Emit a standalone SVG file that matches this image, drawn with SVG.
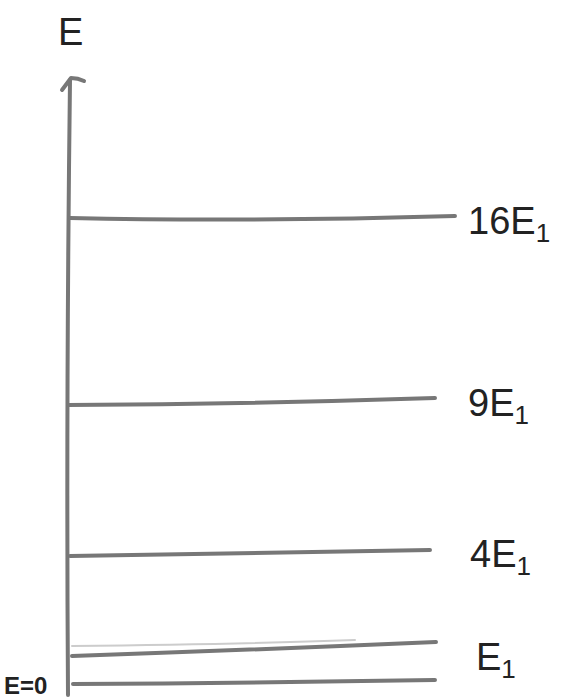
<svg xmlns="http://www.w3.org/2000/svg" width="566" height="699" viewBox="0 0 566 699">
<style>
.ln{fill:none;stroke:#777;stroke-width:4;stroke-linecap:round;stroke-linejoin:round}
.lbl{font-family:"Liberation Sans",Arial,sans-serif;fill:#222;font-size:38px}
.sub{font-size:26px}
</style>
<rect width="566" height="699" fill="#fff"/>
<g id="connectors">
<path class="ln" d="M68 695 Q66 400 70 80"/>
<path class="ln" d="M62 90 L71 78 Q78 78 84 81"/>
<path class="ln" d="M70 218 Q250 222 455 216"/>
<path class="ln" d="M68 405 Q250 404 435 398"/>
<path class="ln" d="M70 556 Q250 553 430 550"/>
<path class="ln" d="M72 656 Q250 650 436 642"/>
<path class="ln" d="M72 646 Q250 644 355 640" style="stroke:#ccc;stroke-width:2"/>
<path class="ln" d="M73 684 Q250 683 435 680"/>
</g>
<g id="label-E"><text class="lbl" x="58" y="45">E</text></g>
<g id="label-16E1"><text class="lbl" x="468" y="234">16E<tspan class="sub" dy="8">1</tspan></text></g>
<g id="label-9E1"><text class="lbl" x="468" y="416">9E<tspan class="sub" dy="8">1</tspan></text></g>
<g id="label-4E1"><text class="lbl" x="470" y="567">4E<tspan class="sub" dy="8">1</tspan></text></g>
<g id="label-E1"><text class="lbl" x="476" y="670">E<tspan class="sub" dy="8">1</tspan></text></g>
<g id="label-E0"><text class="lbl" x="4" y="694" style="font-size:24px;font-weight:bold">E=0</text></g>
</svg>
